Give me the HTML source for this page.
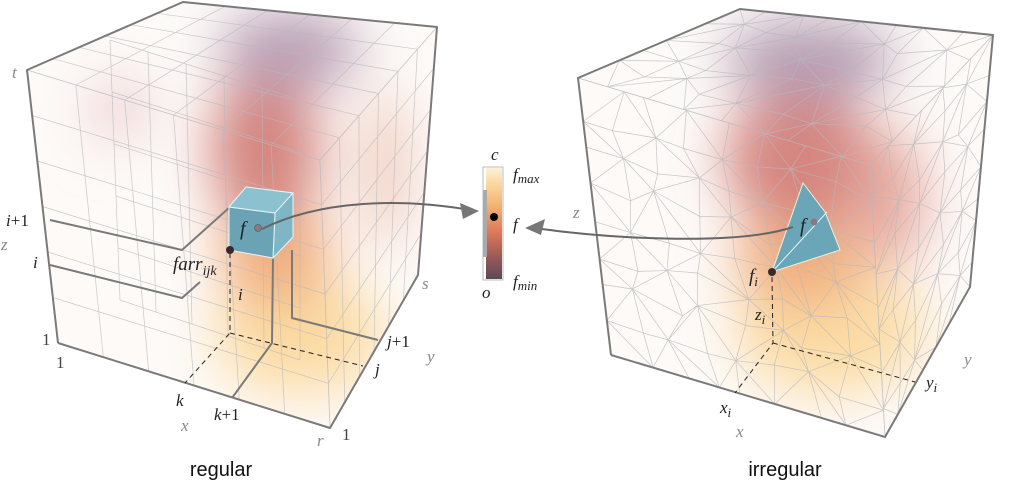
<!DOCTYPE html>
<html><head><meta charset="utf-8"><style>
html,body{margin:0;padding:0;background:#fff;width:1020px;height:482px;overflow:hidden}
svg{display:block}
.it{font-family:"Liberation Serif",serif;font-style:italic}
.lab{font-family:"Liberation Sans","DejaVu Sans",sans-serif}
.up{font-style:normal}
</style></head><body>
<svg id="s" width="1020" height="482" viewBox="0 0 1020 482" xmlns="http://www.w3.org/2000/svg">
<defs>
<filter id="bl" x="-50%" y="-50%" width="200%" height="200%"><feGaussianBlur stdDeviation="26"/></filter>
<clipPath id="c1"><polygon points="27,70 183,2 437,27 418,275 330,428 58,343"/></clipPath>
<clipPath id="c2"><polygon points="578,78 740,9 993,35 970,287 885,437 611,355"/></clipPath>
<linearGradient id="cb" x1="0" y1="0" x2="0" y2="1">
<stop offset="0" stop-color="#fdf0d8"/><stop offset="0.15" stop-color="#fbd79a"/><stop offset="0.35" stop-color="#f2b070"/><stop offset="0.6" stop-color="#d8745a"/><stop offset="0.8" stop-color="#9a5a56"/><stop offset="1" stop-color="#5a4a58"/></linearGradient>
</defs>
<!-- left cube colour -->
<g clip-path="url(#c1)">
<rect x="0" y="0" width="450" height="440" fill="#fdfaf8"/>
<g filter="url(#bl)">
<ellipse cx="300" cy="335" rx="85" ry="60" fill="#fcdca4"/>
<ellipse cx="275" cy="255" rx="55" ry="55" fill="#f1b080"/>
<ellipse cx="265" cy="150" rx="55" ry="80" fill="#d5857f"/>
<ellipse cx="290" cy="50" rx="70" ry="40" fill="#b9a0b6"/>
<ellipse cx="120" cy="110" rx="35" ry="35" fill="#f0d8d8"/>
<ellipse cx="385" cy="170" rx="25" ry="80" fill="#f0cdbf"/>
</g>
<g id="g1" stroke="#b8b8bc" stroke-width="0.7" fill="none" opacity="0.75"></g>
</g>
<!-- right cube colour -->
<g clip-path="url(#c2)">
<rect x="560" y="0" width="450" height="450" fill="#fdfaf8"/>
<g filter="url(#bl)">
<ellipse cx="830" cy="330" rx="95" ry="65" fill="#fcdca4"/>
<ellipse cx="800" cy="260" rx="65" ry="50" fill="#f1b080"/>
<ellipse cx="800" cy="160" rx="75" ry="70" fill="#d5857f"/>
<ellipse cx="810" cy="60" rx="85" ry="40" fill="#b69eb4"/>
<ellipse cx="890" cy="200" rx="35" ry="70" fill="#e6aaa0"/>
</g>
<g id="g2" stroke="#b8b8bc" stroke-width="0.7" fill="none" opacity="0.8"></g>
</g>
<!-- left cube outlines -->
<g stroke="#7a7a7a" stroke-width="2" fill="none" stroke-linejoin="round">
<polyline points="58,343 27,70 183,2 437,27 418,275 330,428 58,343"/>
<polyline points="50,220 182,250 230,207"/>
<polyline points="50,265 182,298 200,282"/>
<polyline points="232,398 272,343 273,258"/>
<polyline points="292,250 292,318 378,340"/>
</g>
<g stroke="#222" stroke-width="1" fill="none" stroke-dasharray="5,4">
<polyline points="230,253 230,333 185,383"/>
<line x1="230" y1="333" x2="363" y2="366"/>
</g>
<!-- blue cube -->
<polygon points="229,207 246,187 293,193 293,237 273,258 275,213" fill="#7fb6c6" stroke="#e8f4f6" stroke-width="1"/>
<polygon points="229,207 275,213 273,258 229,250" fill="#6aa3b4" stroke="#e8f4f6" stroke-width="1"/>
<polygon points="229,207 246,187 293,193 275,213" fill="#8cc1cf" stroke="#e8f4f6" stroke-width="1"/>
<circle cx="258" cy="228" r="3.5" fill="#8a7a80" stroke="#555" stroke-width="0.6"/>
<circle cx="230" cy="250" r="4" fill="#3a2a2a"/>
<!-- right cube outlines -->
<polyline points="611,355 578,78 740,9 993,35 970,287 885,437 611,355" stroke="#7a7a7a" stroke-width="2" fill="none"/>
<g stroke="#222" stroke-width="1" fill="none" stroke-dasharray="5,4">
<polyline points="772,277 773,343 735,393"/>
<line x1="773" y1="343" x2="915" y2="382"/>
</g>
<polygon points="803,183 825,212 840,250 772,272" fill="#6aa6b8" stroke="#f0f0e0" stroke-width="1"/>
<line x1="772" y1="272" x2="827" y2="212" stroke="#e8f2f4" stroke-width="1"/>
<circle cx="814" cy="222" r="3.5" fill="#8a7a80"/>
<circle cx="772" cy="272" r="4" fill="#3a2a2a"/>
<!-- arrows -->
<path d="M262,229 C320,200 400,198 470,210" stroke="#666" stroke-width="2" fill="none"/>
<polygon points="479,211 460,203 463,219" fill="#777"/>
<path d="M793,227 C740,245 620,240 534,228" stroke="#666" stroke-width="2" fill="none"/>
<polygon points="525,228 545,219 541,235" fill="#777"/>
<!-- colorbar -->
<rect x="483" y="167" width="20" height="113" fill="#fff" stroke="#bbb" stroke-width="1"/>
<rect x="486" y="168" width="16" height="111" fill="url(#cb)"/>
<rect x="483" y="190" width="4" height="67" fill="#aaa"/>
<circle cx="494" cy="217" r="4" fill="#000"/>
<!-- labels -->
<g class="it" fill="#222" font-size="17">
<text x="12" y="78" fill="#888">t</text>
<text x="6" y="226">i<tspan class="up">+1</tspan></text>
<text x="1" y="250" fill="#888">z</text>
<text x="33" y="268">i</text>
<text x="42" y="345" class="up" fill="#444">1</text>
<text x="56" y="368" class="up" fill="#444">1</text>
<text x="176" y="406">k</text>
<text x="214" y="420">k<tspan class="up">+1</tspan></text>
<text x="181" y="431" fill="#888">x</text>
<text x="317" y="446" fill="#888">r</text>
<text x="342" y="440" class="up" fill="#444">1</text>
<text x="375" y="375">j</text>
<text x="387" y="347">j<tspan class="up">+1</tspan></text>
<text x="427" y="362" fill="#888">y</text>
<text x="422" y="289" fill="#888">s</text>
<text x="240" y="235" font-size="20">f</text>
<text x="173" y="270" font-size="19">farr<tspan font-size="14" dy="5">ijk</tspan></text>
<text x="238" y="300">i</text>
<text x="491" y="160">c</text>
<text x="513" y="180">f<tspan font-size="13" dy="3">max</tspan></text>
<text x="513" y="230">f</text>
<text x="513" y="287">f<tspan font-size="13" dy="3">min</tspan></text>
<text x="482" y="298">o</text>
<text x="573" y="218" fill="#888">z</text>
<text x="800" y="232" font-size="20">f</text>
<text x="749" y="282" font-size="19">f<tspan font-size="13" dy="4">i</tspan></text>
<text x="755" y="320">z<tspan font-size="13" dy="4">i</tspan></text>
<text x="720" y="413">x<tspan font-size="13" dy="4">i</tspan></text>
<text x="736" y="437" fill="#888">x</text>
<text x="926" y="388">y<tspan font-size="13" dy="4">i</tspan></text>
<text x="964" y="365" fill="#888">y</text>
</g>
<text x="221" y="476" class="lab" font-size="20" text-anchor="middle" fill="#111">regular</text>
<text x="785" y="476" class="lab" font-size="20" text-anchor="middle" fill="#111">irregular</text>
</svg>
<script>
(function(){
var NS="http://www.w3.org/2000/svg";
function bil(c,u,v){var a=c[0],b=c[1],d=c[2],e=c[3];
 return [(1-u)*(1-v)*a[0]+u*(1-v)*b[0]+u*v*d[0]+(1-u)*v*e[0],(1-u)*(1-v)*a[1]+u*(1-v)*b[1]+u*v*d[1]+(1-u)*v*e[1]];}
function line(g,p,q){var l=document.createElementNS(NS,"line");l.setAttribute("x1",p[0]);l.setAttribute("y1",p[1]);l.setAttribute("x2",q[0]);l.setAttribute("y2",q[1]);g.appendChild(l);}
function grid(g,c,n){for(var i=0;i<=n;i++){line(g,bil(c,i/n,0),bil(c,i/n,1));line(g,bil(c,0,i/n),bil(c,1,i/n));}}
var g1=document.getElementById("g1");
var L=[[58,343],[330,428],[320,160],[27,70]],R=[[330,428],[418,275],[437,27],[320,160]],T=[[27,70],[320,160],[437,27],[183,2]];
grid(g1,L,6);grid(g1,R,6);grid(g1,T,6);
var L2=[[120,300],[300,360],[300,100],[110,40]];grid(g1,L2,5);
var g2=document.getElementById("g2");
var seed=7;function rnd(){seed=(seed*9301+49297)%233280;return seed/233280;}
function mesh(c,n,m){var P=[];for(var i=0;i<=n;i++){P[i]=[];for(var j=0;j<=m;j++){var u=i/n,v=j/m;if(i>0&&i<n)u+=(rnd()-.5)*0.6/n;if(j>0&&j<m)v+=(rnd()-.5)*0.6/m;P[i][j]=bil(c,u,v);}}
 for(i=0;i<n;i++)for(j=0;j<m;j++){line(g2,P[i][j],P[i+1][j]);line(g2,P[i][j],P[i][j+1]);if((i+j)%2)line(g2,P[i][j],P[i+1][j+1]);else line(g2,P[i+1][j],P[i][j+1]);}
 for(i=0;i<n;i++)line(g2,P[i][m],P[i+1][m]);for(j=0;j<m;j++)line(g2,P[n][j],P[n][j+1]);}
mesh([[611,355],[885,437],[870,165],[578,78]],8,8);
mesh([[885,437],[970,287],[993,35],[870,165]],5,8);
mesh([[578,78],[870,165],[993,35],[740,9]],8,5);
})();
</script>
</body></html>
